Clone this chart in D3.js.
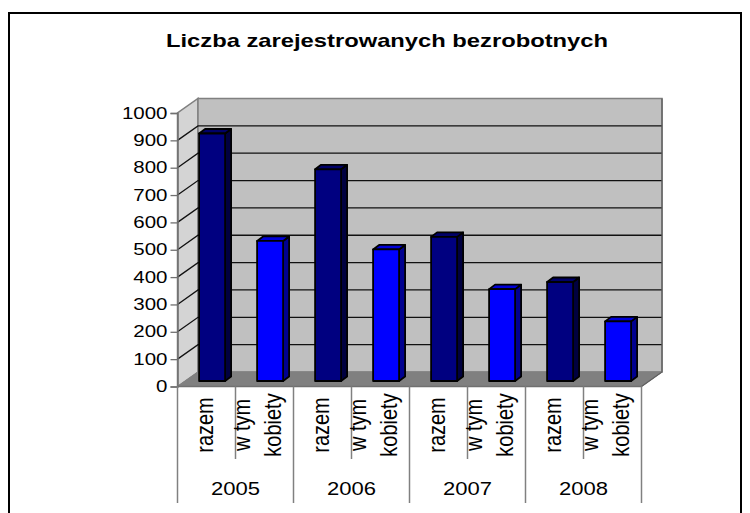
<!DOCTYPE html>
<html>
<head>
<meta charset="utf-8">
<script src="https://cdn.jsdelivr.net/npm/d3@7"></script>
<style>
  body { margin: 0; background: #fff; }
  text { font-family: Arial, "Liberation Sans", sans-serif; fill: #000; }
</style>
</head>
<body>
<div id="chart"></div>
<script>
// data
const title = 'Liczba zarejestrowanych bezrobotnych';
const years = ['2005', '2006', '2007', '2008'];
const types = ['razem', 'kobiety'];
const typeLabels = [['razem'], ['w tym', 'kobiety']];
const razem = [905, 774, 527, 362];
const kobiety = [512, 481, 336, 218];
const yTicks = [0, 100, 200, 300, 400, 500, 600, 700, 800, 900, 1000];

const W = 750, H = 513;
// wall depth offset
const dep = { x: 20.5, y: -14.5 };
// bar placement inside the depth
const barShift = { x: 5.6, y: -5.5 };
const barDepth = { x: 6, y: -4.5 };
const barW = 26;

const cats = [];
years.forEach((yr, i) => {
  cats.push({ key: `${yr}-razem`, year: yr, type: types[0], value: razem[i], lines: typeLabels[0] });
  cats.push({ key: `${yr}-kobiety`, year: yr, type: types[1], value: kobiety[i], lines: typeLabels[1] });
});

const svg = d3.select('#chart').append('svg')
  .attr('width', W).attr('height', H);

svg.append('rect').attr('width', W).attr('height', H).attr('fill', '#fff');

// outer frame
svg.append('path')
  .attr('d', `M9,${H + 2}V13H741V${H + 2}`)
  .attr('fill', 'none').attr('stroke', '#000').attr('stroke-width', 2);

const x = d3.scaleBand().domain(cats.map(d => d.key)).range([177.5, 641.5]);
const y = d3.scaleLinear().domain([0, 1000]).range([386.5, 113]);

const x0 = x.range()[0], x1 = x.range()[1];
const yb = y(0), yt = y(1000);

// title
svg.append('text')
  .attr('x', 166).attr('y', 47)
  .attr('textLength', 442).attr('lengthAdjust', 'spacingAndGlyphs')
  .attr('font-size', 19).attr('font-weight', 'bold')
  .text(title);

const walls = svg.append('g');
// side wall
walls.append('path')
  .attr('d', `M${x0},${yb}L${x0 + dep.x},${yb + dep.y}L${x0 + dep.x},${yt + dep.y}L${x0},${yt}Z`)
  .attr('fill', '#d4d4d4').attr('stroke', '#808080').attr('stroke-width', 1.5);
// back wall
walls.append('rect')
  .attr('x', x0 + dep.x).attr('y', yt + dep.y)
  .attr('width', x1 - x0).attr('height', yb - yt)
  .attr('fill', '#c0c0c0').attr('stroke', '#808080').attr('stroke-width', 1.5);

// gridlines on back + side wall
const grid = yTicks.filter(v => v > 0 && v < 1000);
walls.selectAll('.grid').data(grid).enter().append('path')
  .attr('class', 'grid')
  .attr('d', v => `M${x0},${y(v)}L${x0 + dep.x},${y(v) + dep.y}H${x1 + dep.x}`)
  .attr('fill', 'none').attr('stroke', '#111').attr('stroke-width', 1.3);

// floor
walls.append('path')
  .attr('d', `M${x0},${yb}H${x1}L${x1 + dep.x},${yb + dep.y}H${x0 + dep.x}Z`)
  .attr('fill', '#808080').attr('stroke', '#808080').attr('stroke-width', 1);
walls.append('path')
  .attr('d', `M${x1},${yb}L${x1 + dep.x},${yb + dep.y}V${yt + dep.y}`)
  .attr('fill', 'none').attr('stroke', '#606060').attr('stroke-width', 1.3);

// bars
const colors = {
  razem: { front: '#000080', side: '#000040', top: '#000068' },
  kobiety: { front: '#0000ff', side: '#000090', top: '#0000d8' },
};
const bars = svg.append('g').selectAll('.bar').data(cats).enter().append('g')
  .attr('class', 'bar');

bars.each(function (d) {
  const g = d3.select(this);
  const bx = x(d.key) + x.bandwidth() / 2 - barW / 2 + barShift.x;
  const by0 = y(0) + barShift.y;
  const by1 = y(d.value) + barShift.y;
  const c = colors[d.type];
  g.append('path')
    .attr('d', `M${bx + barW},${by0}L${bx + barW + barDepth.x},${by0 + barDepth.y}V${by1 + barDepth.y}L${bx + barW},${by1}Z`)
    .attr('fill', c.side);
  g.append('path')
    .attr('d', `M${bx},${by1}L${bx + barDepth.x},${by1 + barDepth.y}H${bx + barW + barDepth.x}L${bx + barW},${by1}Z`)
    .attr('fill', c.top);
  g.append('rect')
    .attr('x', bx).attr('y', by1).attr('width', barW).attr('height', by0 - by1)
    .attr('fill', c.front);
  g.selectAll('path, rect')
    .attr('stroke', '#000').attr('stroke-width', 1.8).attr('stroke-linejoin', 'round');
});

// y axis
const yAxis = svg.append('g').attr('transform', `translate(${x0},0)`)
  .call(d3.axisLeft(y).tickValues(yTicks).tickSize(7).tickPadding(3).tickFormat(d3.format('d')));
yAxis.select('.domain').attr('stroke', '#707070').attr('stroke-width', 1.5);
yAxis.selectAll('.tick line').attr('stroke', '#707070').attr('stroke-width', 1.3);
yAxis.selectAll('.tick text')
  .attr('font-family', 'Arial, "Liberation Sans", sans-serif')
  .attr('font-size', 16)
  .attr('fill', '#000')
  .each(function () {
    const t = d3.select(this);
    const xx = +t.attr('x');
    t.attr('x', null).attr('transform', `translate(${xx},0) scale(1.28,1)`);
  });

// x axis: baseline and dividers
const xAxis = svg.append('g');
xAxis.append('line')
  .attr('x1', x0).attr('x2', x1).attr('y1', yb).attr('y2', yb)
  .attr('stroke', '#707070').attr('stroke-width', 1.5);
const edges = cats.map(d => x(d.key)).concat([x1]);
xAxis.selectAll('.div').data(edges).enter().append('line')
  .attr('x1', d => d).attr('x2', d => d)
  .attr('y1', yb)
  .attr('y2', (d, i) => (i % 2 === 0 ? 503 : 459))
  .attr('stroke', '#808080').attr('stroke-width', 1.5);

// rotated category labels
const lineOffsets = { 1: [6.5], 2: [-15, 16.5] };
cats.forEach(d => {
  const cx = x(d.key) + x.bandwidth() / 2;
  d.lines.forEach((ln, j) => {
    const bx = cx + lineOffsets[d.lines.length][j];
    xAxis.append('text')
      .attr('transform', `translate(${bx},425) rotate(-90) scale(1,1.2)`)
      .attr('text-anchor', 'middle')
      .attr('font-size', 20)
      .text(ln);
  });
});

// year labels
years.forEach(yr => {
  const cx = x(`${yr}-razem`) + x.bandwidth();
  xAxis.append('text')
    .attr('transform', `translate(${cx},495) scale(1.26,1)`)
    .attr('text-anchor', 'middle')
    .attr('font-size', 17.5)
    .text(yr);
});
</script>
</body>
</html>
